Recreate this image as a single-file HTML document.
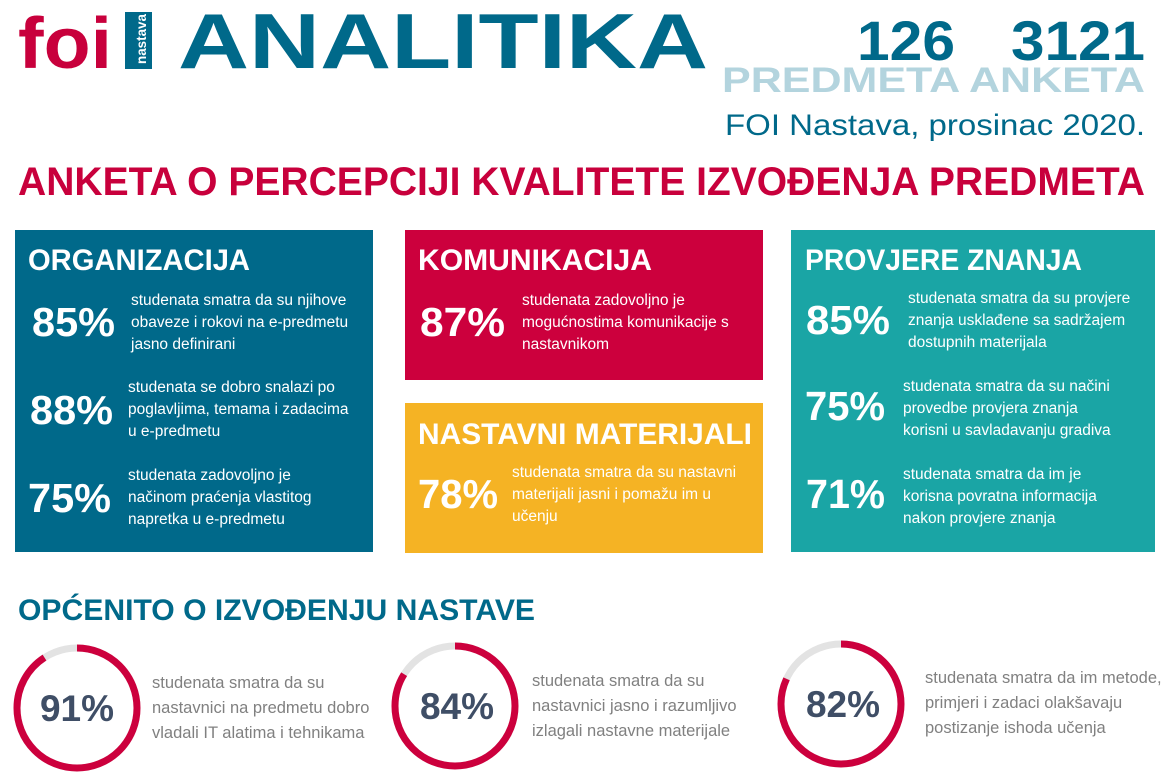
<!DOCTYPE html>
<html><head><meta charset="utf-8"><style>
html,body{margin:0;padding:0;background:#fff;width:1173px;height:781px;overflow:hidden}
svg{display:block}
text{font-family:"Liberation Sans",sans-serif}
.b{font-weight:bold}
.w{fill:#fff}
.s{font-size:15.5px;fill:#fff}
.p{font-size:41px;font-weight:bold;fill:#fff}
.h{font-size:30px;font-weight:bold;fill:#fff}
.g{font-size:16.5px;fill:#808080}
.c{font-size:37px;font-weight:bold;fill:#3f4e66}
</style></head><body>
<svg width="1173" height="781" viewBox="0 0 1173 781">
<text x="18" y="68" font-size="72" class="b" fill="#c8003c" textLength="94" lengthAdjust="spacingAndGlyphs">foi</text>
<rect x="125" y="12" width="27" height="57" fill="#00698a"/>
<text transform="translate(146,64) rotate(-90)" font-size="14" class="b w" textLength="50" lengthAdjust="spacingAndGlyphs">nastava</text>
<text x="178" y="68" font-size="78" class="b" fill="#00698a" textLength="530" lengthAdjust="spacingAndGlyphs">ANALITIKA</text>
<text x="857" y="60" font-size="56" class="b" fill="#00698a" textLength="98" lengthAdjust="spacingAndGlyphs">126</text>
<text x="1011" y="60" font-size="56" class="b" fill="#00698a" textLength="134" lengthAdjust="spacingAndGlyphs">3121</text>
<text x="722" y="92" font-size="35" class="b" fill="#b3d4de" textLength="423" lengthAdjust="spacingAndGlyphs">PREDMETA ANKETA</text>
<text x="725" y="135" font-size="30" fill="#00698a" textLength="420" lengthAdjust="spacingAndGlyphs">FOI Nastava, prosinac 2020.</text>
<text x="18" y="195" font-size="40" class="b" fill="#c8003c" textLength="1127" lengthAdjust="spacingAndGlyphs">ANKETA O PERCEPCIJI KVALITETE IZVOĐENJA PREDMETA</text>

<rect x="15" y="230" width="358" height="322" fill="#00698a"/>
<rect x="405" y="230" width="358" height="150" fill="#cc003d"/>
<rect x="405" y="403" width="358" height="150" fill="#f5b324"/>
<rect x="791" y="230" width="364" height="322" fill="#1aa5a5"/>

<text x="28" y="270" class="h" textLength="222" lengthAdjust="spacingAndGlyphs">ORGANIZACIJA</text>
<text x="32" y="336" class="p" textLength="83" lengthAdjust="spacingAndGlyphs">85%</text>
<text x="131" y="305" class="s">studenata smatra da su njihove</text>
<text x="131" y="327" class="s">obaveze i rokovi na e-predmetu</text>
<text x="131" y="349" class="s">jasno definirani</text>
<text x="30" y="424" class="p" textLength="83" lengthAdjust="spacingAndGlyphs">88%</text>
<text x="128" y="392" class="s">studenata se dobro snalazi po</text>
<text x="128" y="414" class="s">poglavljima, temama i zadacima</text>
<text x="128" y="436" class="s">u e-predmetu</text>
<text x="28" y="512" class="p" textLength="83" lengthAdjust="spacingAndGlyphs">75%</text>
<text x="128" y="480" class="s">studenata zadovoljno je</text>
<text x="128" y="502" class="s">načinom praćenja vlastitog</text>
<text x="128" y="524" class="s">napretka u e-predmetu</text>

<text x="418" y="270" class="h" textLength="234" lengthAdjust="spacingAndGlyphs">KOMUNIKACIJA</text>
<text x="420" y="336" class="p" textLength="85" lengthAdjust="spacingAndGlyphs">87%</text>
<text x="522" y="305" class="s">studenata zadovoljno je</text>
<text x="522" y="327" class="s">mogućnostima komunikacije s</text>
<text x="522" y="349" class="s">nastavnikom</text>

<text x="418" y="444" class="h" textLength="334" lengthAdjust="spacingAndGlyphs">NASTAVNI MATERIJALI</text>
<text x="418" y="508" class="p" textLength="80" lengthAdjust="spacingAndGlyphs">78%</text>
<text x="512" y="477" class="s">studenata smatra da su nastavni</text>
<text x="512" y="499" class="s">materijali jasni i pomažu im u</text>
<text x="512" y="521" class="s">učenju</text>

<text x="805" y="270" class="h" textLength="277" lengthAdjust="spacingAndGlyphs">PROVJERE ZNANJA</text>
<text x="806" y="334" class="p" textLength="84" lengthAdjust="spacingAndGlyphs">85%</text>
<text x="908" y="303" class="s">studenata smatra da su provjere</text>
<text x="908" y="325" class="s">znanja usklađene sa sadržajem</text>
<text x="908" y="347" class="s">dostupnih materijala</text>
<text x="805" y="420" class="p" textLength="80" lengthAdjust="spacingAndGlyphs">75%</text>
<text x="903" y="391" class="s">studenata smatra da su načini</text>
<text x="903" y="413" class="s">provedbe provjera znanja</text>
<text x="903" y="435" class="s">korisni u savladavanju gradiva</text>
<text x="806" y="508" class="p" textLength="79" lengthAdjust="spacingAndGlyphs">71%</text>
<text x="903" y="479" class="s">studenata smatra da im je</text>
<text x="903" y="501" class="s">korisna povratna informacija</text>
<text x="903" y="523" class="s">nakon provjere znanja</text>

<text x="18" y="620" font-size="30" class="b" fill="#00698a" textLength="517" lengthAdjust="spacingAndGlyphs">OPĆENITO O IZVOĐENJU NASTAVE</text>

<g fill="none" stroke-width="7">
<circle cx="77" cy="708" r="60" stroke="#e3e3e3"/>
<circle cx="77" cy="708" r="60" stroke="#cc003d" pathLength="100" stroke-dasharray="91 100" transform="rotate(-90 77 708)"/>
<circle cx="455" cy="706" r="60" stroke="#e3e3e3"/>
<circle cx="455" cy="706" r="60" stroke="#cc003d" pathLength="100" stroke-dasharray="84 100" transform="rotate(-90 455 706)"/>
<circle cx="841" cy="704" r="60" stroke="#e3e3e3"/>
<circle cx="841" cy="704" r="60" stroke="#cc003d" pathLength="100" stroke-dasharray="82 100" transform="rotate(-90 841 704)"/>
</g>
<text x="77" y="721" class="c" text-anchor="middle">91%</text>
<text x="457" y="719" class="c" text-anchor="middle">84%</text>
<text x="843" y="717" class="c" text-anchor="middle">82%</text>
<text x="152" y="688" class="g">studenata smatra da su</text>
<text x="152" y="713" class="g">nastavnici na predmetu dobro</text>
<text x="152" y="738" class="g">vladali IT alatima i tehnikama</text>
<text x="532" y="686" class="g">studenata smatra da su</text>
<text x="532" y="711" class="g">nastavnici jasno i razumljivo</text>
<text x="532" y="736" class="g">izlagali nastavne materijale</text>
<text x="925" y="683" class="g">studenata smatra da im metode,</text>
<text x="925" y="708" class="g">primjeri i zadaci olakšavaju</text>
<text x="925" y="733" class="g">postizanje ishoda učenja</text>
</svg>
</body></html>
